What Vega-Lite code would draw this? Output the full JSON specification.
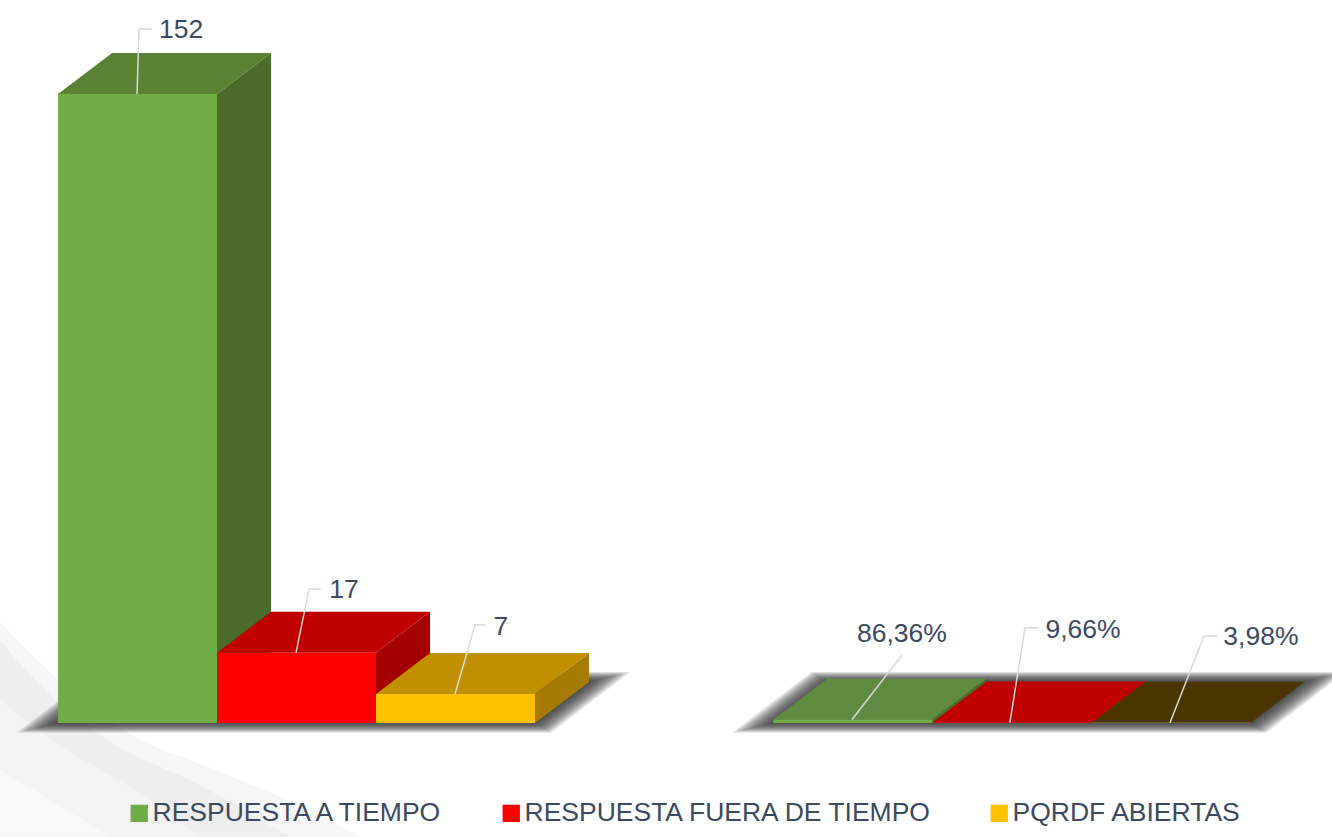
{"$schema":"https://vega.github.io/schema/vega-lite/v6.json","width":1332,"height":837,"autosize":{"type":"fit","contains":"padding"},"padding":0,"background":"#ffffff","view":{"stroke":null},
"data":{"values":[
{"grupo":"Cantidad","serie":"RESPUESTA A TIEMPO","valor":152,"etiqueta":"152","slot":0},
{"grupo":"Cantidad","serie":"RESPUESTA FUERA DE TIEMPO","valor":17,"etiqueta":"17","slot":1},
{"grupo":"Cantidad","serie":"PQRDF ABIERTAS","valor":7,"etiqueta":"7","slot":2},
{"grupo":"Porcentaje","serie":"RESPUESTA A TIEMPO","valor":0.8636,"etiqueta":"86,36%","slot":4.5},
{"grupo":"Porcentaje","serie":"RESPUESTA FUERA DE TIEMPO","valor":0.0966,"etiqueta":"9,66%","slot":5.5},
{"grupo":"Porcentaje","serie":"PQRDF ABIERTAS","valor":0.0398,"etiqueta":"3,98%","slot":6.5}
]},
"layer":[
{"data":{"values":[
{"s":"a","u":-0.365,"v":24.4,"v2":-27.5},{"s":"a","u":-0.05,"v":12.3,"v2":-27.5},{"s":"a","u":0.39,"v":-1.2,"v2":-27.5},{"s":"a","u":1.02,"v":-11.8,"v2":-27.5},{"s":"a","u":1.65,"v":-22.2,"v2":-27.5},{"s":"a","u":1.9,"v":-27.5,"v2":-27.5},
{"s":"b","u":-0.365,"v":20,"v2":-27.5},{"s":"b","u":-0.113,"v":9.2,"v2":-27.5},{"s":"b","u":0.264,"v":-2.9,"v2":-27.5},{"s":"b","u":0.893,"v":-15,"v2":-27.5},{"s":"b","u":1.459,"v":-27.5,"v2":-27.5},
{"s":"c","u":-0.365,"v":5.6,"v2":-27.5},{"s":"c","u":0.013,"v":-5.3,"v2":-27.5},{"s":"c","u":0.579,"v":-18.6,"v2":-27.5},{"s":"c","u":0.893,"v":-27.5,"v2":-27.5},
{"s":"d","u":-0.365,"v":-11.4,"v2":-27.5},{"s":"d","u":-0.05,"v":-18.6,"v2":-27.5},{"s":"d","u":0.327,"v":-27.5,"v2":-27.5}
]},
"mark":{"type":"area","stroke":null,"clip":true,"interpolate":"monotone"},
"encoding":{"x":{"field":"u","type":"quantitative","scale":{"domain":[-0.365,8.013],"nice":false,"zero":false},"axis":null},"y":{"field":"v","type":"quantitative","stack":null,"scale":{"domain":[-27.55,174.7],"nice":false,"zero":false},"axis":null},"y2":{"field":"v2"},
"color":{"field":"s","type":"nominal","legend":null,"scale":{"domain":["a","b","c","d"],"range":["#f6f6f6","#eeeeee","#f3f3f3","#f8f8f8"]}}}},
{"transform":[{"filter":"datum.slot==0||datum.slot==4.5"},{"calculate":"[0.015,0.03,0.045,0.06,0.075,0.09,0.105,0.12,0.135,0.15,0.165,0.18]","as":"e"},{"flatten":["e"]},{"calculate":"[0,1,2,3]","as":"k"},{"flatten":["k"]},{"calculate":"datum.e*13","as":"ev"},
{"calculate":"(datum.k==0?datum.slot-datum.e-0.034*datum.ev:datum.k==1?datum.slot-datum.e+0.034*(10+datum.ev):datum.k==2?datum.slot+3+datum.e-0.034*datum.ev:datum.slot+3+datum.e+0.034*(10+datum.ev))","as":"px"},
{"calculate":"datum.k==0?-datum.ev:10+datum.ev","as":"py"},{"calculate":"datum.k==3?10+datum.ev:-datum.ev","as":"py2"}],
"mark":{"type":"area","color":"#2b2b2b","opacity":0.13,"clip":true},
"encoding":{"detail":[{"field":"slot"},{"field":"e"}],"x":{"field":"px","type":"quantitative"},"y":{"field":"py","type":"quantitative","stack":null},"y2":{"field":"py2"}}},
{"transform":[{"calculate":"[0,0.34]","as":"k"},{"flatten":["k"]},{"calculate":"datum.slot+1+datum.k","as":"px"},{"calculate":"datum.valor+(datum.k>0?9.9:0)","as":"py"},{"calculate":"datum.k>0?9.9:0","as":"py2"}],
"mark":{"type":"area"},
"encoding":{"x":{"field":"px","type":"quantitative"},"y":{"field":"py","type":"quantitative","stack":null},"y2":{"field":"py2"},
"color":{"field":"slot","type":"nominal","legend":null,"scale":{"domain":[0,1,2,4.5,5.5,6.5],"range":["#4A6D2C","#A50000","#A67C00","#4A6D2C","#A50000","#3C2B00"]}}}},
{"transform":[{"calculate":"[0,0.34,1,1.34]","as":"k"},{"flatten":["k"]},{"calculate":"datum.slot+datum.k","as":"px"},{"calculate":"datum.valor+(datum.k>0?9.9:0)","as":"py"},{"calculate":"datum.valor+(datum.k>1?9.9:0)","as":"py2"}],
"mark":{"type":"area"},
"encoding":{"x":{"field":"px","type":"quantitative"},"y":{"field":"py","type":"quantitative","stack":null},"y2":{"field":"py2"},
"color":{"field":"slot","type":"nominal","legend":null,"scale":{"domain":[0,1,2,4.5,5.5,6.5],"range":["#598235","#C00000","#C09000","#5F8A41","#C00000","#4B3500"]}}}},
{"transform":[{"calculate":"datum.slot+1","as":"fin"},{"calculate":"0","as":"base"}],
"mark":{"type":"rect"},
"encoding":{"x":{"field":"slot","type":"quantitative"},"x2":{"field":"fin"},"y":{"field":"valor","type":"quantitative"},"y2":{"field":"base"},
"color":{"field":"serie","type":"nominal","title":null,"scale":{"domain":["RESPUESTA A TIEMPO","RESPUESTA FUERA DE TIEMPO","PQRDF ABIERTAS"],"range":["#70AD47","#FF0000","#FFC000"]},
"legend":{"orient":"none","legendX":126,"legendY":800,"direction":"horizontal","columns":3,"symbolType":"square","symbolSize":300,"symbolStrokeWidth":0,"symbolOpacity":1,"labelFont":"Liberation Sans","labelFontSize":26.5,"labelColor":"#3B4A5F","labelLimit":600,"labelOffset":0,"columnPadding":52,"padding":0}}}},
{"transform":[{"calculate":"[[0.497,0.509,0.591],[1.497,1.579,1.654],[2.497,2.623,2.692],[4.994,5.308,5.308],[5.987,6.082,6.164],[6.994,7.208,7.289]][indexof([0,1,2,4.5,5.5,6.5],datum.slot)]","as":"lu"},
{"calculate":"[[152,167.7,167.7],[17,32.4,32.4],[7,23.7,23.7],[0.86,16.4,16.4],[0.1,23,23],[0.04,21,21]][indexof([0,1,2,4.5,5.5,6.5],datum.slot)]","as":"lv"},{"flatten":["lu","lv"]}],
"mark":{"type":"line","color":"#d9d9d9","strokeWidth":1.5},
"encoding":{"detail":{"field":"slot"},"x":{"field":"lu","type":"quantitative"},"y":{"field":"lv","type":"quantitative"}}},
{"transform":[{"calculate":"[0.774,1.799,2.786,5.308,6.447,7.566][indexof([0,1,2,4.5,5.5,6.5],datum.slot)]","as":"tu"},{"calculate":"[167.5,32.1,23.2,21.5,22.5,20.8][indexof([0,1,2,4.5,5.5,6.5],datum.slot)]","as":"tv"}],
"mark":{"type":"text","font":"Liberation Sans","fontSize":26.5,"color":"#3B4A5F","baseline":"middle","align":"center"},
"encoding":{"x":{"field":"tu","type":"quantitative"},"y":{"field":"tv","type":"quantitative"},"text":{"field":"etiqueta"}}}
],
"resolve":{"scale":{"color":"independent"}}}
